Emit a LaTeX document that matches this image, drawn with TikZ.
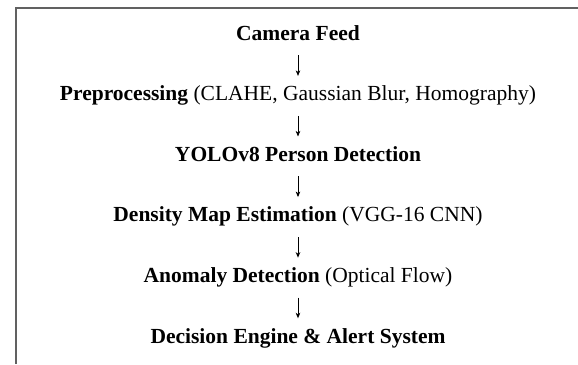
\documentclass[tikz,border=0pt]{standalone}
\usepackage{fontspec}
\setmainfont{Liberation Serif}
\usetikzlibrary{arrows.meta}

\begin{document}
\begin{tikzpicture}[x=1pt,y=-1pt,
  stage/.style={inner sep=0pt,anchor=base,text height=14.5pt,text depth=4.5pt,
    font=\fontsize{21.5}{26}\selectfont},
  flow/.style={line width=0.8pt,-{Stealth[length=5.5pt,width=4.5pt,inset=1.5pt]},
    shorten <=10.5pt,shorten >=10pt}]
\useasboundingbox (0,0) rectangle (578,364);
\draw[line width=2pt,black!62] (15.5,364)--(15.5,7.7)--(578,7.7);
\node[stage] (cam) at (298,40) {\textbf{Camera Feed}};
\node[stage] (prep) at (298,100.6) {\textbf{Preprocessing} (CLAHE, Gaussian Blur, Homography)};
\node[stage] (yolo) at (298,161.2) {\textbf{YOLOv8 Person Detection}};
\node[stage] (dens) at (298,221.8) {\textbf{Density Map Estimation} (VGG-16 CNN)};
\node[stage] (anom) at (298,282.4) {\textbf{Anomaly Detection} (Optical Flow)};
\node[stage] (dec) at (298,343) {\textbf{Decision Engine \& Alert System}};
\draw[flow] (cam)--(prep);
\draw[flow] (prep)--(yolo);
\draw[flow] (yolo)--(dens);
\draw[flow] (dens)--(anom);
\draw[flow] (anom)--(dec);
\end{tikzpicture}
\end{document}
